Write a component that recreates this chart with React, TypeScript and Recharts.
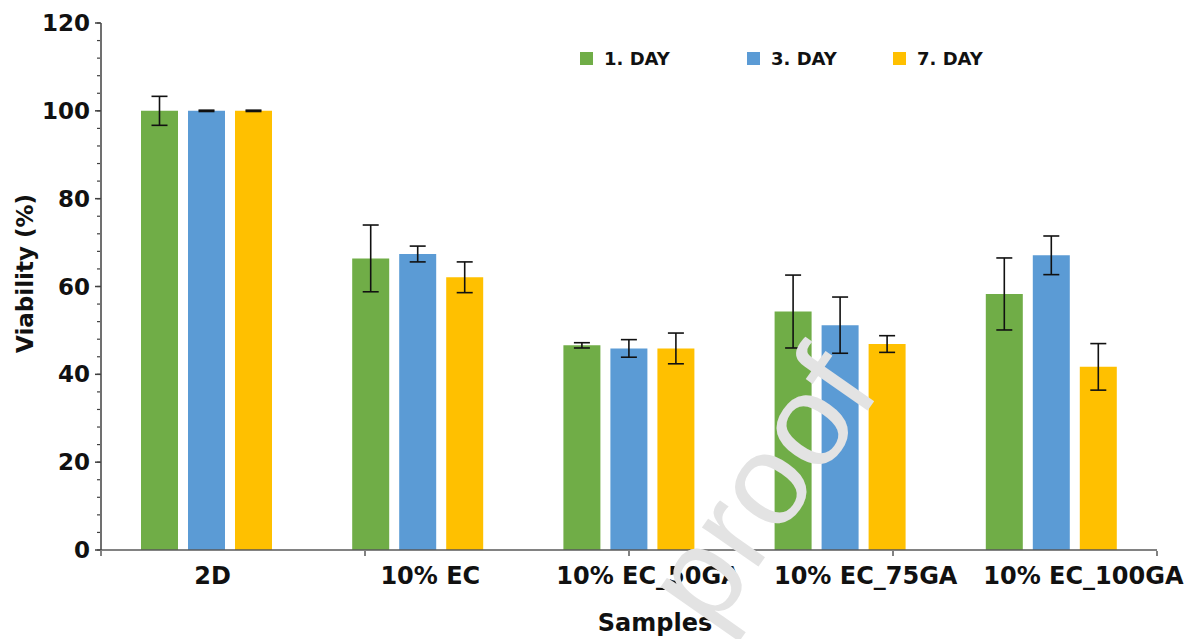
import React from 'react';
import { BarChart, Bar, XAxis, YAxis, ErrorBar, Legend, Label } from 'recharts';

// Cell viability per sample, mean and standard deviation
const samples = ['2D', '10% EC', '10% EC_50GA', '10% EC_75GA', '10% EC_100GA'];
const day1 = [100, 66.4, 46.6, 54.3, 58.3];
const day3 = [100, 67.4, 45.9, 51.2, 67.1];
const day7 = [100, 62.1, 45.9, 46.9, 41.7];
const day1Sd = [3.3, 7.6, 0.6, 8.3, 8.2];
const day3Sd = [0.15, 1.8, 2.0, 6.4, 4.4];
const day7Sd = [0.15, 3.5, 3.5, 1.9, 5.3];

const yTicks = [0, 20, 40, 60, 80, 100, 120];
const yMinorTicks = [0, 4, 8, 12, 16, 20, 24, 28, 32, 36, 40, 44, 48, 52, 56, 60, 64, 68, 72, 76, 80, 84, 88, 92, 96, 100, 104, 108, 112, 116, 120];
const groupEdges = [0, 1, 2, 3, 4, 5];

const series = [
  { key: 'day1', name: '1. DAY', color: '#70AD47' },
  { key: 'day3', name: '3. DAY', color: '#5B9BD5' },
  { key: 'day7', name: '7. DAY', color: '#FFC000' },
];

const data = samples.map((sample, i) => ({
  sample,
  day1: day1[i],
  day3: day3[i],
  day7: day7[i],
  day1Sd: day1Sd[i],
  day3Sd: day3Sd[i],
  day7Sd: day7Sd[i],
}));

const FONT = '"DejaVu Sans", sans-serif';
const legendLeft = [0, 167, 313];

// labels drift a little to the right of their group centres
const SampleTick = (props: any) => {
  const { x, y, payload, index } = props;
  return (
    <text x={x + 6 + index * 6.5} y={y} dy={34} textAnchor="middle" fontFamily={FONT} fontSize={24} fontWeight="bold" fill="#111">
      {payload.value}
    </text>
  );
};

const renderLegend = () => (
  <div style={{ position: 'relative', height: 20, fontFamily: FONT }}>
    {series.map((s, i) => (
      <div key={s.key} style={{ position: 'absolute', left: legendLeft[i], top: 0, display: 'flex', alignItems: 'center', height: 20 }}>
        <span style={{ width: 13, height: 13, background: s.color, display: 'inline-block' }} />
        <span style={{ marginLeft: 11, fontSize: 18, fontWeight: 'bold', color: '#111', whiteSpace: 'nowrap' }}>{s.name}</span>
      </div>
    ))}
  </div>
);

const YTitle = (props: any) => {
  const vb = props.viewBox;
  const x = 25;
  const y = vb.y + vb.height / 2 - 13;
  return (
    <text x={x} y={y} transform={`rotate(-90 ${x} ${y})`} textAnchor="middle" fontFamily={FONT} fontSize={23} fontWeight="bold" fill="#111">
      Viability (%)
    </text>
  );
};

const XTitle = (props: any) => {
  const vb = props.viewBox;
  return (
    <text x={647} y={vb.y + 81} textAnchor="middle" fontFamily={FONT} fontSize={24} fontWeight="bold" fill="#111">
      Samples
    </text>
  );
};

export default function App() {
  return (
    <div style={{ position: 'relative', width: 1185, height: 631 }}>
      <BarChart
        width={1185}
        height={631}
        data={data}
        margin={{ top: 15, right: 36, bottom: 87, left: 91 }}
        barSize={37}
        barGap={10}
      >
        {/* boundary ticks between sample groups */}
        <XAxis
          xAxisId="edges"
          type="number"
          domain={[0, 5]}
          ticks={groupEdges}
          allowDataOverflow
          height={1}
          axisLine={false}
          tickSize={5}
          tickLine={{ stroke: '#595959', strokeWidth: 1.5 }}
          tickFormatter={() => ''}
        />
        <XAxis
          dataKey="sample"
          height={1}
          tickSize={0}
          tickMargin={0}
          tickLine={false}
          interval={0}
          axisLine={{ stroke: '#595959', strokeWidth: 1.5 }}
          tick={<SampleTick />}
        >
          <Label content={<XTitle />} />
        </XAxis>
        <YAxis
          yAxisId="minor"
          type="number"
          domain={[0, 120]}
          ticks={yMinorTicks}
          allowDataOverflow
          width={1}
          axisLine={false}
          tickSize={3}
          tickLine={{ stroke: '#404040', strokeWidth: 1.2 }}
          tickFormatter={() => ''}
        />
        <YAxis
          type="number"
          domain={[0, 120]}
          ticks={yTicks}
          width={1}
          tickSize={6}
          tickMargin={5}
          axisLine={{ stroke: '#404040', strokeWidth: 1.5 }}
          tickLine={{ stroke: '#404040', strokeWidth: 1.5 }}
          tick={{ fontFamily: FONT, fontSize: 23, fontWeight: 'bold', fill: '#111' }}
        >
          <Label content={<YTitle />} />
        </YAxis>
        <Legend
          layout="vertical"
          align="center"
          verticalAlign="middle"
          content={renderLegend}
          wrapperStyle={{ top: 40, left: 572, width: 420, height: 20 }}
        />
        {series.map((s) => (
          <Bar key={s.key} dataKey={s.key} name={s.name} fill={s.color} isAnimationActive={false}>
            <ErrorBar dataKey={`${s.key}Sd`} width={8} stroke="#111" strokeWidth={1.6} />
          </Bar>
        ))}
      </BarChart>
      <div
        style={{
          position: 'absolute',
          left: 752,
          top: 478,
          transform: 'translate(-50%, -50%) rotate(-55deg)',
          fontFamily: '"Liberation Sans", Arial, sans-serif',
          fontSize: 130,
          lineHeight: 1,
          color: '#e3e3e3',
          pointerEvents: 'none',
          whiteSpace: 'nowrap',
        }}
      >
        proof
      </div>
    </div>
  );
}
